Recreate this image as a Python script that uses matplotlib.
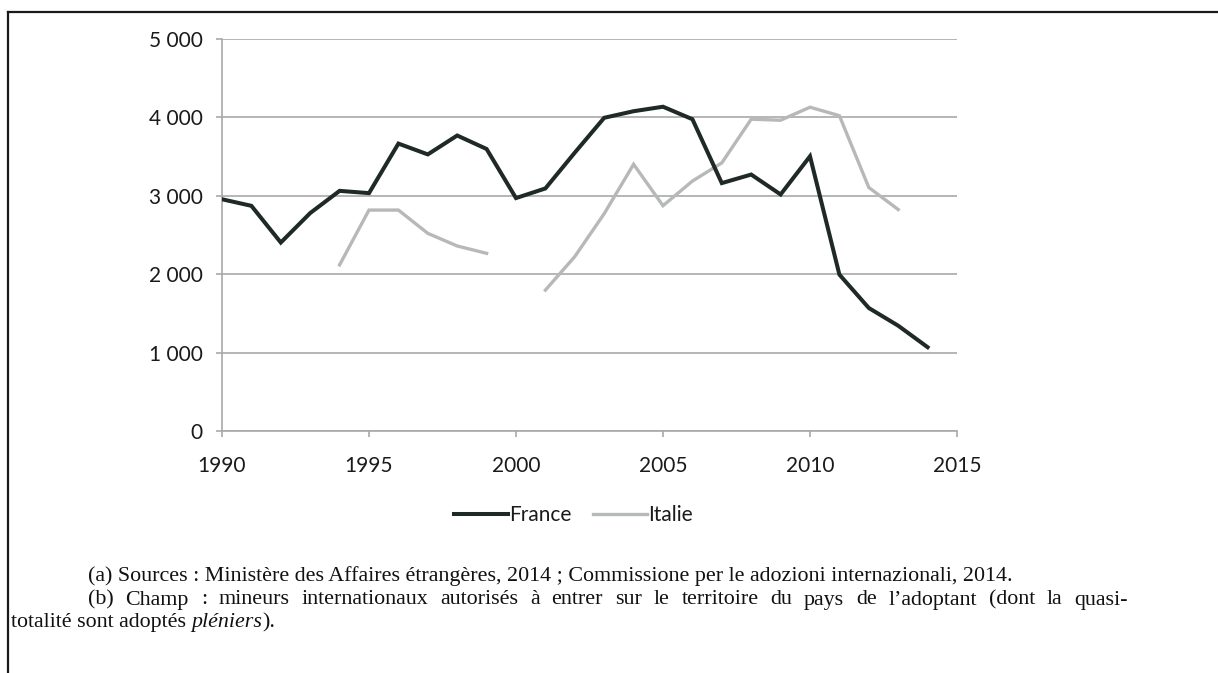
import numpy as np
import matplotlib
matplotlib.use("Agg")
import matplotlib.pyplot as plt
from matplotlib.lines import Line2D

# Adoptions internationales par année
years = list(range(1990, 2015))
france = [2956, 2872, 2404, 2780, 3063, 3034, 3666, 3528, 3769, 3597,
          2971, 3094, 3551, 3995, 4079, 4136, 3977, 3162, 3271, 3017,
          3504, 1995, 1569, 1343, 1069]
italie = [np.nan, np.nan, np.nan, np.nan, 2119, 2818, 2818, 2521, 2360, 2266,
          np.nan, 1797, 2225, 2772, 3402, 2874, 3188, 3420, 3977, 3964,
          4130, 4022, 3106, 2825, np.nan]

x_ticks = [1990, 1995, 2000, 2005, 2010, 2015]
y_ticks = [0, 1000, 2000, 3000, 4000, 5000]
y_tick_labels = ["0", "1 000", "2 000", "3 000", "4 000", "5 000"]

series_names = ["France", "Italie"]
series_colors = ["#1f2a28", "#b6b9b8"]

W, H = 1218, 673
fig = plt.figure(figsize=(W / 100, H / 100), dpi=100)
fig.patch.set_facecolor("white")

ax = fig.add_axes([222 / W, 1 - 431 / H, 735 / W, 392 / H])
grid_col = "#a9a9a9"

ax.plot(years, france, color=series_colors[0], lw=2.9, label=series_names[0],
        solid_joinstyle="miter", zorder=4)
ax.plot(years, italie, color=series_colors[1], lw=2.4, label=series_names[1],
        solid_joinstyle="miter", zorder=3)

ax.set_xlim(1990, 2015)
ax.set_ylim(0, 5000)
ax.set_xticks(x_ticks)
ax.set_xticklabels([str(t) for t in x_ticks])
ax.set_yticks(y_ticks)
ax.set_yticklabels(y_tick_labels)

ax.yaxis.grid(True, color=grid_col, lw=1.2, zorder=1)
ax.set_axisbelow(True)
for s in ["top", "right"]:
    ax.spines[s].set_visible(False)
for s in ["left", "bottom"]:
    ax.spines[s].set_color(grid_col)
    ax.spines[s].set_linewidth(1.2)

ax.tick_params(axis="y", length=4, width=1.2, color=grid_col, pad=10,
               labelsize=15, labelcolor="#1a1a1a")
ax.tick_params(axis="x", length=4, width=1.2, color=grid_col, pad=14,
               labelsize=15, labelcolor="#1a1a1a")
for lab in ax.get_xticklabels() + ax.get_yticklabels():
    lab.set_family("Lato")

leg = ax.legend(loc="center", bbox_to_anchor=(0.478, -0.214),
                ncol=2, frameon=False, handlelength=2.6, handletextpad=0.05,
                columnspacing=1.05, borderpad=0.0,
                prop={"family": "Lato", "size": 15})
for t in leg.get_texts():
    t.set_color("#1a1a1a")

# Cadre
fig.add_artist(Line2D([8 / W, 1.0], [1 - 11.5 / H, 1 - 11.5 / H],
                      transform=fig.transFigure, color="#1a1a1a", lw=1.6))
fig.add_artist(Line2D([8 / W, 8 / W], [1 - 11.5 / H, 0.0],
                      transform=fig.transFigure, color="#1a1a1a", lw=1.6))

# Notes
serif = "Liberation Serif"
fs = 15.8
ink = "#111111"
renderer = fig.canvas.get_renderer()

fig.text(88 / W, 1 - 576 / H,
         "(a) Sources : Ministère des Affaires étrangères, 2014 ; "
         "Commissione per le adozioni internazionali, 2014.",
         family=serif, size=fs, va="center", ha="left", color=ink)

# Ligne justifiée
line_b = ("(b) Champ : mineurs internationaux autorisés à entrer sur le territoire "
          "du pays de l’adoptant (dont la quasi-")
words = line_b.split(" ")
x_start, x_end = 88, 1128
y2 = 1 - 600 / H
word_artists = []
widths = []
for w in words:
    t = fig.text(0, y2, w, family=serif, size=fs, va="center", ha="left", color=ink)
    word_artists.append(t)
    widths.append(t.get_window_extent(renderer=renderer).width)
gap = (x_end - x_start - sum(widths)) / (len(words) - 1)
xc = x_start
for t, wd in zip(word_artists, widths):
    t.set_x(xc / W)
    xc += wd + gap

x0 = 11 / W
y3 = 1 - 623 / H
parts = [("totalité sont adoptés ", "normal"), ("pléniers", "italic"), (").", "normal")]
for txt, style in parts:
    t = fig.text(x0, y3, txt, family=serif, size=fs, style=style,
                 va="center", ha="left", color=ink)
    bb = t.get_window_extent(renderer=renderer)
    x0 = bb.x1 / W

fig.savefig("out.png", dpi=100, facecolor="white")
